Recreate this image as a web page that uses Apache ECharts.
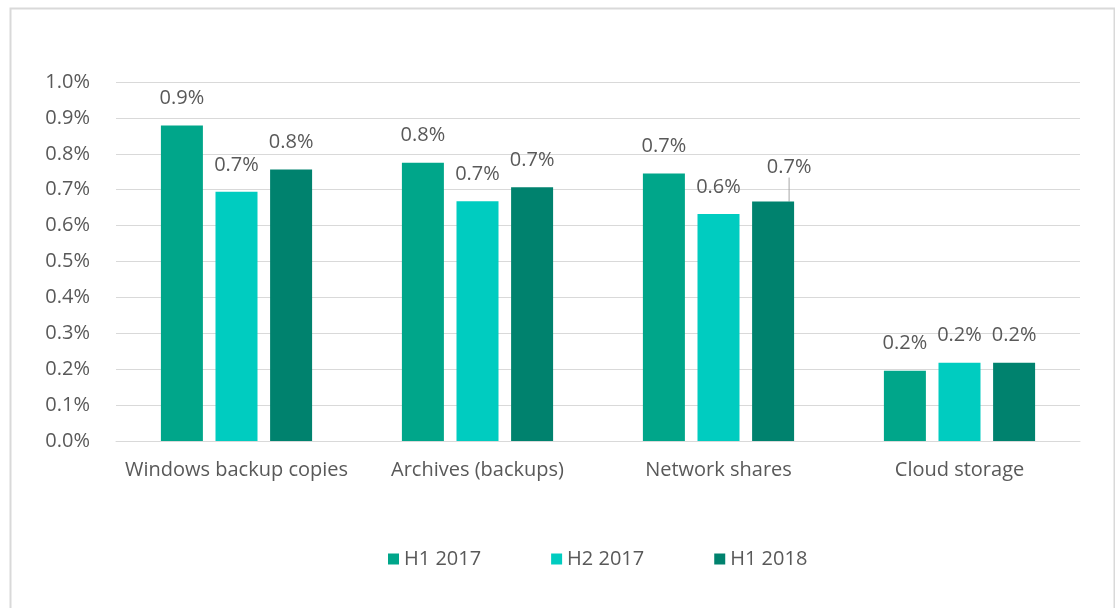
<!DOCTYPE html>
<html>
<head>
<meta charset="utf-8">
<script src="https://cdn.jsdelivr.net/npm/echarts@6/dist/echarts.min.js"></script>
<style>
html,body{margin:0;padding:0;background:#fff;}
#c{width:1115px;height:608px;}
</style>
</head>
<body>
<div id="c"></div>
<script>
const categories = ['Windows backup copies', 'Archives (backups)', 'Network shares', 'Cloud storage'];
const seriesNames = ['H1 2017', 'H2 2017', 'H1 2018'];
const h1_2017 = [0.879, 0.775, 0.745, 0.196];
const h2_2017 = [0.694, 0.668, 0.632, 0.218];
const h1_2018 = [0.756, 0.707, 0.667, 0.218];
const yTicks = [0, 0.1, 0.2, 0.3, 0.4, 0.5, 0.6, 0.7, 0.8, 0.9, 1.0];
const colors = ['#00A68A', '#00CCC0', '#00826E'];

const font = '"Open Sans", sans-serif';
const fs = 20;
const txt = '#595959';
const chart = echarts.init(document.getElementById('c'));
const values = [h1_2017, h2_2017, h1_2018];

chart.setOption({
  animation: false,
  graphic: [{
    type: 'rect', left: 8, top: 6, z: -10,
    shape: {width: 1104, height: 620},
    style: {fill: 'none', stroke: '#d9d9d9', lineWidth: 2}
  }],
  grid: {left: 116, right: 35, top: 82, bottom: 167},
  legend: {
    left: 383, top: 544, itemWidth: 11, itemHeight: 11, itemGap: 70,
    icon: 'rect',
    textStyle: {color: txt, fontSize: fs, fontFamily: font},
    data: seriesNames
  },
  xAxis: {
    type: 'category', data: categories,
    axisLine: {lineStyle: {color: '#d9d9d9'}},
    axisTick: {show: false},
    axisLabel: {color: txt, fontSize: fs, fontFamily: font, margin: 19, interval: 0}
  },
  yAxis: {
    type: 'value', min: 0, max: 1.0, interval: 0.1,
    axisLine: {show: false}, axisTick: {show: false},
    splitLine: {lineStyle: {color: '#d9d9d9'}},
    axisLabel: {color: txt, fontSize: fs, fontFamily: font, margin: 26,
      formatter: v => v.toFixed(1) + '%'}
  },
  series: seriesNames.map((name, i) => ({
    name, type: 'bar',
    data: values[i].map((v, j) => (i === 2 && j === 2)
      ? {value: v, labelLine: {show: true, lineStyle: {color: '#a6a6a6', width: 1}}}
      : {value: v}),
    barWidth: 42, barGap: '30%',
    itemStyle: {color: colors[i]},
    label: {show: true, position: 'top', distance: 17, color: txt, fontSize: fs, fontFamily: font,
      formatter: p => p.value.toFixed(1) + '%'},
    labelLine: {show: false},
    labelLayout: p => (i === 2 && p.dataIndex === 2) ? {dx: 16, dy: -7} : {}
  }))
});
</script>
</body>
</html>
